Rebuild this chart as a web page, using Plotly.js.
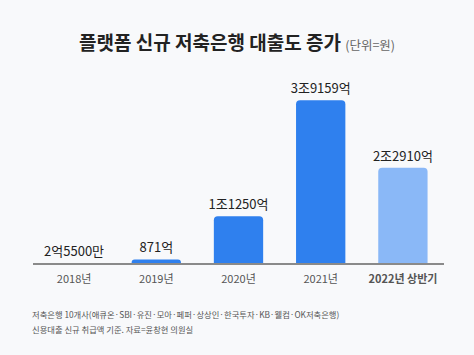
<!DOCTYPE html>
<html>
<head>
<meta charset="utf-8">
<script src="https://cdn.plot.ly/plotly-3.0.1.min.js"></script>
<style>
html,body{margin:0;padding:0;background:#f8f9fb;}
#chart{width:474px;height:355px;}
</style>
</head>
<body>
<div id="chart"></div>
<script>
// Categories and values (unit: 억원)
const categories = ["2018년", "2019년", "2020년", "2021년", "2022년 상반기"];
const tickLabels = ["2018년", "2019년", "2020년", "2021년", "<b>2022년 상반기</b>"];
const values = [2.55, 871, 11250, 39159, 22910];
const valueLabels = ["2억5500만", "871억", "1조1250억", "3조9159억", "2조2910억"];
const barColors = ["#2f7ae8", "#2f80ee", "#2f80ee", "#2f80ee", "#8ab8f7"];
const footLines = [
  "저축은행 10개사(애큐온·SBI·유진·모아·페퍼·상상인·한국투자·KB·웰컴·OK저축은행)",
  "신용대출 신규 취급액 기준. 자료=윤창현 의원실"
];

const FONT = "'Noto Sans CJK KR', 'Noto Sans', sans-serif";

const data = [{
  type: "bar",
  x: categories,
  y: values,
  text: valueLabels,
  textposition: "outside",
  constraintext: "none",
  cliponaxis: false,
  textfont: {family: FONT, size: 13, color: "#222"},
  marker: {color: barColors, cornerradius: 4},
  hoverinfo: "none"
}];

const layout = {
  width: 474,
  height: 355,
  paper_bgcolor: "#f8f9fb",
  plot_bgcolor: "#f8f9fb",
  margin: {l: 33, r: 30, t: 80, b: 92},
  bargap: 0.4,
  showlegend: false,
  font: {family: FONT},
  title: {
    text: "<b>플랫폼 신규 저축은행 대출도 증가</b> <span style='font-size:12.5px;color:#666'>(단위=원)</span>",
    font: {family: FONT, size: 19, color: "#222"},
    x: 0.5, xanchor: "center",
    y: 0.877, yanchor: "middle"
  },
  xaxis: {
    type: "category",
    tickvals: categories,
    ticktext: tickLabels,
    showline: true,
    linecolor: "#8a8a8a",
    linewidth: 1.5,
    ticks: "",
    ticklabelstandoff: 5,
    showgrid: false,
    zeroline: false,
    tickfont: {family: FONT, size: 11, color: "#555"},
    fixedrange: true
  },
  yaxis: {
    range: [0, 44000],
    visible: false,
    showgrid: false,
    zeroline: false,
    fixedrange: true
  },
  annotations: footLines.map((t, i) => ({
    xref: "paper", yref: "paper",
    x: -0.008, y: -0.235 - i * 0.082, xanchor: "left", yanchor: "top",
    align: "left",
    showarrow: false,
    text: t,
    font: {family: FONT, size: 8.3, color: "#555"}
  }))
};

Plotly.newPlot("chart", data, layout, {displayModeBar: false, staticPlot: true});
</script>
</body>
</html>
